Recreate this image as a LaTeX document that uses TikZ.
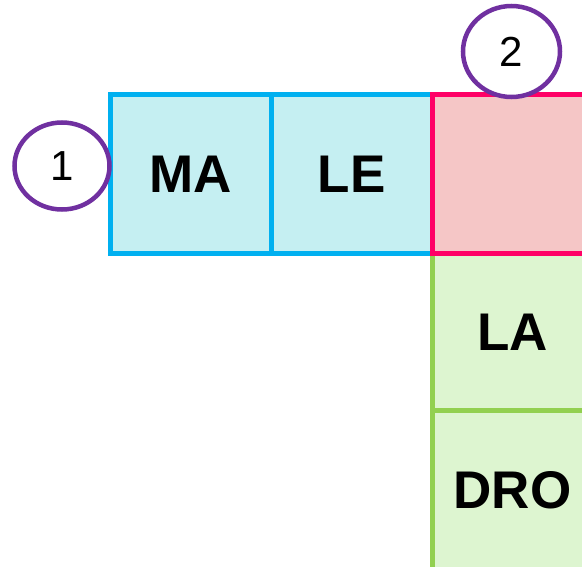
\documentclass[tikz,border=0pt]{standalone}
\usepackage{fontspec}
\setmainfont{Liberation Sans}
\usetikzlibrary{shapes.geometric}
\definecolor{bluestroke}{HTML}{00B0F0}
\definecolor{bluefill}{HTML}{C5EFF2}
\definecolor{redstroke}{HTML}{FF0066}
\definecolor{redfill}{HTML}{F5C6C6}
\definecolor{greenstroke}{HTML}{92D050}
\definecolor{greenfill}{HTML}{DDF5D0}
\definecolor{purplestroke}{HTML}{7030A0}
\tikzset{
  cell/.style={rectangle, inner sep=0pt, minimum width=161pt, minimum height=159pt, line width=5pt,
    font=\fontsize{53}{60}\selectfont\bfseries},
  bluecell/.style={cell, draw=bluestroke, fill=bluefill},
  redcell/.style={cell, draw=redstroke, fill=redfill},
  greencell/.style={cell, draw=greenstroke, fill=greenfill},
  marker/.style={ellipse, draw=purplestroke, fill=white, line width=4.5pt, inner sep=0pt,
    font=\fontsize{42}{48}\selectfont}
}
\begin{document}
\begin{tikzpicture}[x=1pt,y=-1pt]
\useasboundingbox (0,0) rectangle (582,567);
\clip (0,0) rectangle (582,567);
\node[bluecell] (ma) at (190.5,174) {MA};
\node[bluecell] (le) at (351.5,174) {LE};
\node[greencell] (la) at (512.5,332) {LA};
\node[greencell] (dro) at (512.5,490) {DRO};
\node[redcell] (red) at (512.5,174) {};
\node[marker, minimum width=95pt, minimum height=87pt] (one) at (62,166) {1};
\node[marker, minimum width=97pt, minimum height=91pt] (two) at (511.5,51.5) {2};
\end{tikzpicture}
\end{document}
